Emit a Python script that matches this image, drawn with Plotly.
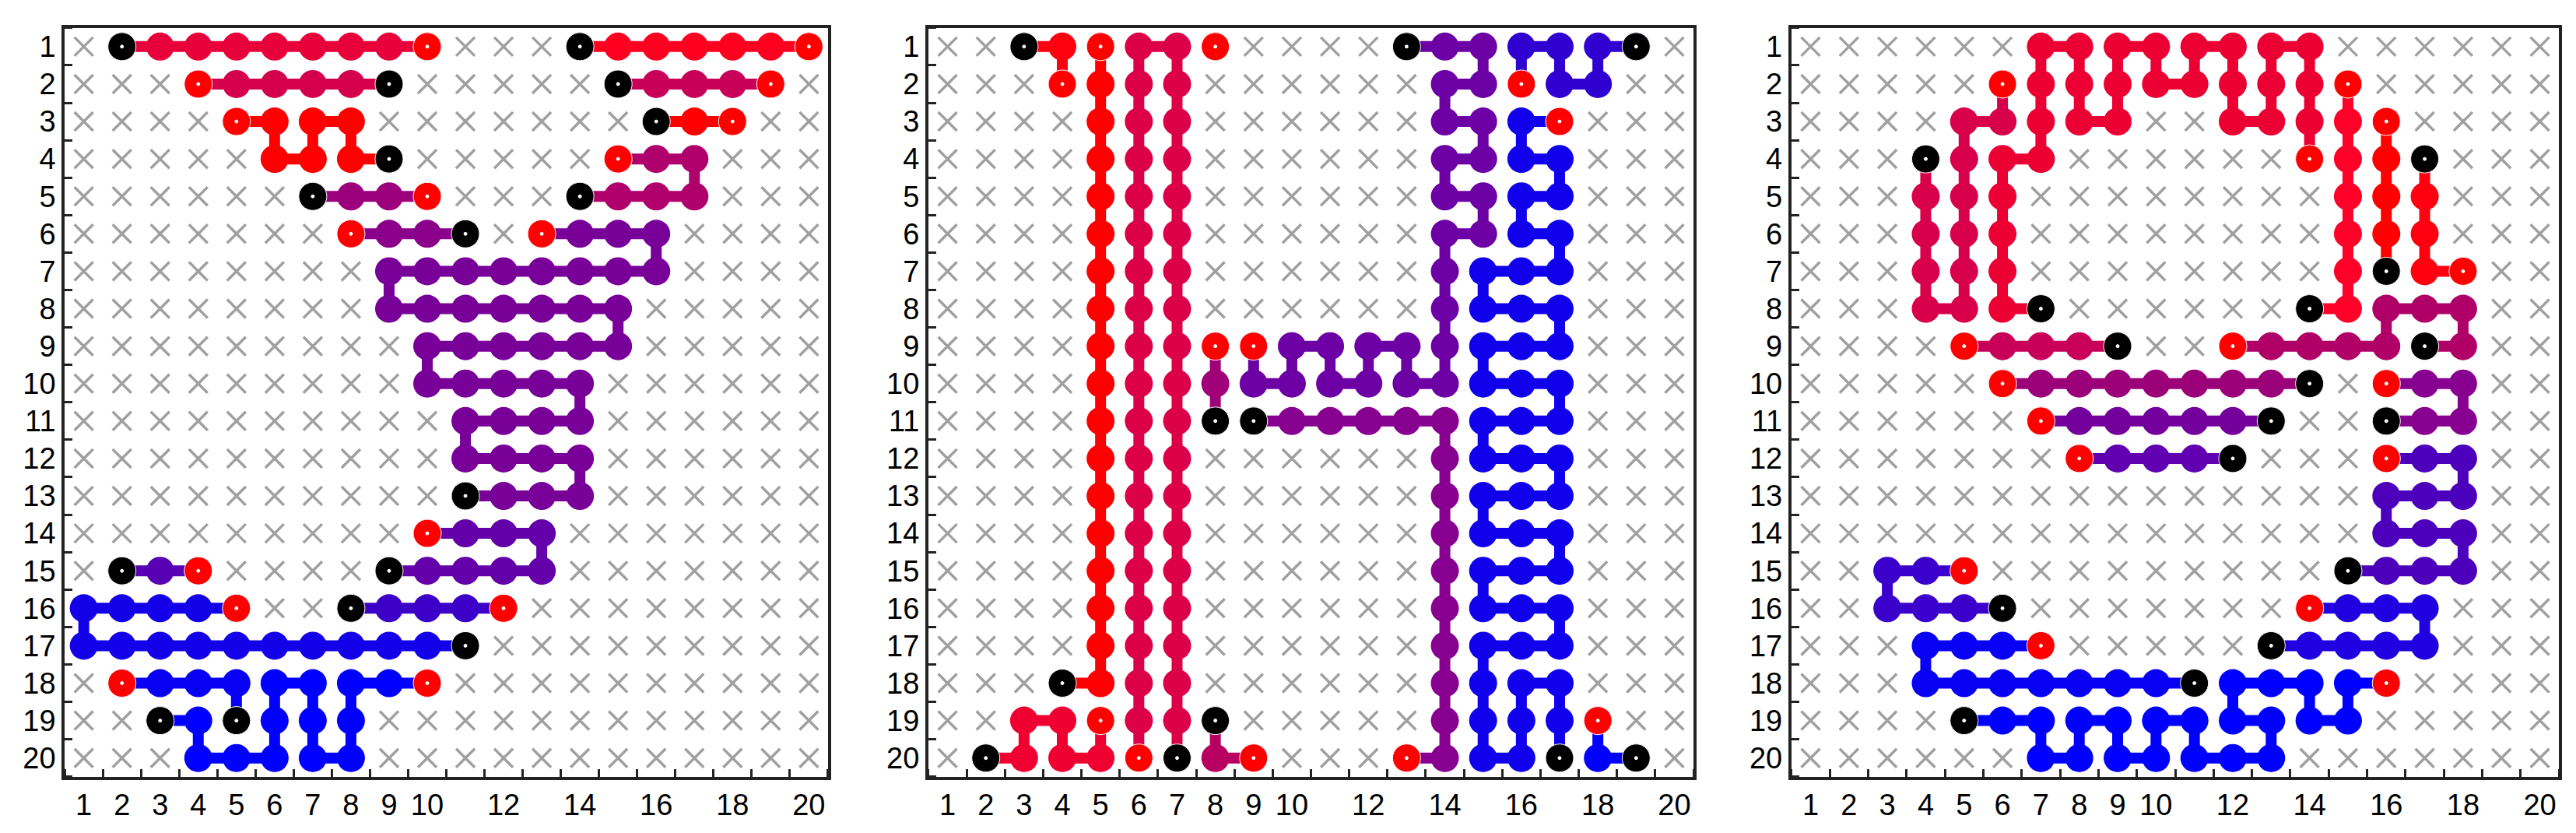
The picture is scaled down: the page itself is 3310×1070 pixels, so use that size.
import plotly.graph_objects as go

# each path: list of (col, row); first point = start (black), last = end (red)
paths_a = [
    ("#ff0020", [(14, 1), (15, 1), (16, 1), (17, 1), (18, 1), (19, 1), (20, 1)]),
    ("#e8003a", [(2, 1), (3, 1), (4, 1), (5, 1), (6, 1), (7, 1), (8, 1), (9, 1), (10, 1)]),
    ("#ff0000", [(16, 3), (17, 3), (18, 3)]),
    ("#ff0000", [(9, 4), (8, 4), (8, 3), (7, 3), (7, 4), (6, 4), (6, 3), (5, 3)]),
    ("#d4004c", [(9, 2), (8, 2), (7, 2), (6, 2), (5, 2), (4, 2)]),
    ("#c80058", [(15, 2), (16, 2), (17, 2), (18, 2), (19, 2)]),
    ("#b0006c", [(14, 5), (15, 5), (16, 5), (17, 5), (17, 4), (16, 4), (15, 4)]),
    ("#9c007c", [(7, 5), (8, 5), (9, 5), (10, 5)]),
    ("#8a008a", [(11, 6), (10, 6), (9, 6), (8, 6)]),
    ("#780098", [(11, 13), (12, 13), (13, 13), (14, 13), (14, 12), (13, 12), (12, 12), (11, 12),
                 (11, 11), (12, 11), (13, 11), (14, 11), (14, 10), (13, 10), (12, 10), (11, 10), (10, 10),
                 (10, 9), (11, 9), (12, 9), (13, 9), (14, 9), (15, 9), (15, 8), (14, 8), (13, 8), (12, 8),
                 (11, 8), (10, 8), (9, 8), (9, 7), (10, 7), (11, 7), (12, 7), (13, 7), (14, 7), (15, 7),
                 (16, 7), (16, 6), (15, 6), (14, 6), (13, 6)]),
    ("#6400aa", [(9, 15), (10, 15), (11, 15), (12, 15), (13, 15), (13, 14), (12, 14), (11, 14), (10, 14)]),
    ("#5a00b4", [(2, 15), (3, 15), (4, 15)]),
    ("#3c00c8", [(8, 16), (9, 16), (10, 16), (11, 16), (12, 16)]),
    ("#1400e8", [(11, 17), (10, 17), (9, 17), (8, 17), (7, 17), (6, 17), (5, 17), (4, 17), (3, 17),
                 (2, 17), (1, 17), (1, 16), (2, 16), (3, 16), (4, 16), (5, 16)]),
    ("#0800f4", [(5, 19), (5, 18), (4, 18), (3, 18), (2, 18)]),
    ("#0000ff", [(3, 19), (4, 19), (4, 20), (5, 20), (6, 20), (6, 19), (6, 18), (7, 18), (7, 19),
                 (7, 20), (8, 20), (8, 19), (8, 18), (9, 18), (10, 18)]),
]

paths_b = [
    ("#ff0010", [(3, 1), (4, 1), (4, 2)]),
    ("#ff0000", [(4, 18)] + [(5, r) for r in range(18, 0, -1)]),
    ("#f00030", [(2, 20), (3, 20), (3, 19), (4, 19), (4, 20), (5, 20), (5, 19)]),
    ("#dc0048", [(7, r) for r in range(20, 0, -1)] + [(6, r) for r in range(1, 21)]),
    ("#ff0000", [(8, 1)]),
    ("#b80060", [(8, 19), (8, 20), (9, 20)]),
    ("#a00078", [(8, 11), (8, 10), (8, 9)]),
    ("#880090", [(9, 11), (10, 11), (11, 11), (12, 11), (13, 11)] + [(14, r) for r in range(11, 21)] + [(13, 20)]),
    ("#6c00a4", [(13, 1), (14, 1), (15, 1), (15, 2), (14, 2), (14, 3), (15, 3), (15, 4), (14, 4), (14, 5),
                 (15, 5), (15, 6), (14, 6), (14, 7), (14, 8), (14, 9), (14, 10), (13, 10), (13, 9),
                 (12, 9), (12, 10), (11, 10), (11, 9), (10, 9), (10, 10), (9, 10), (9, 9)]),
    ("#3000d0", [(19, 1), (18, 1), (18, 2), (17, 2), (17, 1), (16, 1), (16, 2)]),
    ("#1000ec", [(17, 20), (17, 19), (17, 18), (16, 18), (16, 19), (16, 20), (15, 20), (15, 19), (15, 18),
                 (15, 17), (16, 17), (17, 17), (17, 16), (16, 16), (15, 16), (15, 15), (16, 15), (17, 15),
                 (17, 14), (16, 14), (15, 14), (15, 13), (16, 13), (17, 13), (17, 12), (16, 12), (15, 12),
                 (15, 11), (16, 11), (17, 11), (17, 10), (16, 10), (15, 10), (15, 9), (16, 9), (17, 9),
                 (17, 8), (16, 8), (15, 8), (15, 7), (16, 7), (17, 7), (17, 6), (16, 6), (16, 5), (17, 5),
                 (17, 4), (16, 4), (16, 3), (17, 3)]),
    ("#0000ff", [(19, 20), (18, 20), (18, 19)]),
]

paths_c = [
    ("#ff0000", [(16, 7), (16, 6), (16, 5), (16, 4), (16, 3)]),
    ("#ff0010", [(17, 4), (17, 5), (17, 6), (17, 7), (18, 7)]),
    ("#ff0028", [(14, 8)] + [(15, r) for r in range(8, 1, -1)]),
    ("#ec0034", [(7, 8), (6, 8), (6, 7), (6, 6), (6, 5), (6, 4), (7, 4), (7, 3), (7, 2), (7, 1), (8, 1),
                 (8, 2), (8, 3), (9, 3), (9, 2), (9, 1), (10, 1), (10, 2), (11, 2), (11, 1), (12, 1),
                 (12, 2), (12, 3), (13, 3), (13, 2), (13, 1), (14, 1), (14, 2), (14, 3), (14, 4)]),
    ("#d8004a", [(4, 4), (4, 5), (4, 6), (4, 7), (4, 8), (5, 8), (5, 7), (5, 6), (5, 5), (5, 4), (5, 3),
                 (6, 3), (6, 2)]),
    ("#c8005a", [(9, 9), (8, 9), (7, 9), (6, 9), (5, 9)]),
    ("#b00068", [(17, 9), (18, 9), (18, 8), (17, 8), (16, 8), (16, 9), (15, 9), (14, 9), (13, 9), (12, 9)]),
    ("#9c0078", [(14, 10), (13, 10), (12, 10), (11, 10), (10, 10), (9, 10), (8, 10), (7, 10), (6, 10)]),
    ("#880090", [(16, 11), (17, 11), (18, 11), (18, 10), (17, 10), (16, 10)]),
    ("#74009c", [(13, 11), (12, 11), (11, 11), (10, 11), (9, 11), (8, 11), (7, 11)]),
    ("#6000b0", [(12, 12), (11, 12), (10, 12), (9, 12), (8, 12)]),
    ("#4c00bc", [(15, 15), (16, 15), (17, 15), (18, 15), (18, 14), (17, 14), (16, 14), (16, 13), (17, 13),
                 (18, 13), (18, 12), (17, 12), (16, 12)]),
    ("#3c00cc", [(6, 16), (5, 16), (4, 16), (3, 16), (3, 15), (4, 15), (5, 15)]),
    ("#2000e0", [(13, 17), (14, 17), (15, 17), (16, 17), (17, 17), (17, 16), (16, 16), (15, 16), (14, 16)]),
    ("#0800f4", [(11, 18), (10, 18), (9, 18), (8, 18), (7, 18), (6, 18), (5, 18), (4, 18), (4, 17), (5, 17),
                 (6, 17), (7, 17)]),
    ("#0000ff", [(5, 19), (6, 19), (7, 19), (7, 20), (8, 20), (8, 19), (9, 19), (9, 20), (10, 20), (10, 19),
                 (11, 19), (11, 20), (12, 20), (13, 20), (13, 19), (12, 19), (12, 18), (13, 18), (14, 18),
                 (14, 19), (15, 19), (15, 18), (16, 18)]),
]

x_ticks = list(range(1, 21))
x_labels = [str(i) if i <= 10 or i % 2 == 0 else "" for i in x_ticks]
y_ticks = list(range(1, 21))

domains = [(0.0227, 0.319), (0.358, 0.655), (0.693, 0.991)]
MS = 36

fig = go.Figure()
for k, paths in enumerate([paths_a, paths_b, paths_c]):
    xa = "x" if k == 0 else f"x{k+1}"
    ya = "y" if k == 0 else f"y{k+1}"
    used = set(p for _, pts in paths for p in pts)
    gx = [c for c in range(1, 21) for r in range(1, 21) if (c, r) not in used]
    gy = [r for c in range(1, 21) for r in range(1, 21) if (c, r) not in used]
    fig.add_trace(go.Scatter(x=gx, y=gy, mode="markers", xaxis=xa, yaxis=ya, showlegend=False,
                             marker=dict(symbol="x-thin-open", size=24, color="#a0a0a0",
                                         line=dict(width=3.5, color="#a0a0a0"))))
    for col, pts in paths:
        xs = [p[0] for p in pts]
        ys = [p[1] for p in pts]
        fig.add_trace(go.Scatter(x=xs, y=ys, mode="lines+markers", xaxis=xa, yaxis=ya, showlegend=False,
                                 line=dict(color=col, width=14),
                                 marker=dict(size=MS, color=col, opacity=1)))
        ends = [(xs[0], ys[0], "black"), (xs[-1], ys[-1], "red")] if len(pts) > 1 else [(xs[0], ys[0], "red")]
        for ex, ey, ec in ends:
            fig.add_trace(go.Scatter(x=[ex, ex], y=[ey, ey], mode="markers", xaxis=xa, yaxis=ya,
                                     showlegend=False,
                                     marker=dict(size=[MS, 4], color=[ec, "white"], opacity=1)))

    axfont = dict(family="Liberation Sans Narrow, Liberation Sans, Arial", size=38, color="black")
    fig.update_layout(**{
        ("xaxis" if k == 0 else f"xaxis{k+1}"): dict(
            domain=domains[k], anchor=ya, range=[0.5, 20.5], tickvals=x_ticks, ticktext=x_labels,
            ticks="", showgrid=False, zeroline=False, showline=True, linecolor="#222", linewidth=4,
            mirror=True, tickfont=axfont,
            minor=dict(tick0=0.5, dtick=1, ticks="inside", ticklen=10, tickwidth=3, tickcolor="#222")),
        ("yaxis" if k == 0 else f"yaxis{k+1}"): dict(
            domain=[0.075, 0.974], anchor=xa, range=[20.5, 0.5], tickvals=y_ticks,
            ticks="", showgrid=False, zeroline=False, showline=True, linecolor="#222", linewidth=4,
            mirror=True, tickfont=axfont,
            minor=dict(tick0=0.5, dtick=1, ticks="inside", ticklen=10, tickwidth=3, tickcolor="#222")),
    })

fig.update_layout(width=3310, height=1070, margin=dict(l=0, r=0, t=0, b=0),
                  paper_bgcolor="white", plot_bgcolor="white")
fig.write_html("out.html")
